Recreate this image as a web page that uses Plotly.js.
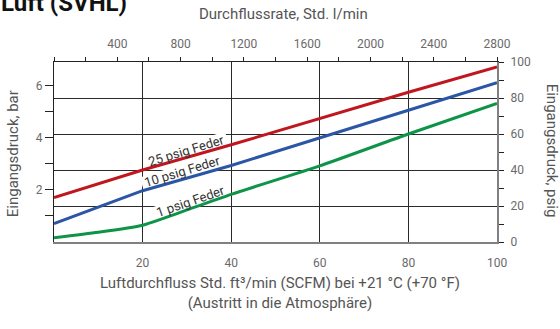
<!DOCTYPE html>
<html>
<head>
<meta charset="utf-8">
<script src="https://cdn.plot.ly/plotly-3.0.1.min.js"></script>
<style>
  html, body { margin: 0; padding: 0; background: #fff; }
  #chart { width: 560px; height: 329px; }
</style>
</head>
<body>
<div id="chart"></div>
<script>
// Air flow (SCFM) vs. inlet pressure (psig) for three spring ranges
const flowScfm = [0, 20, 40, 60, 80, 100];
const flowScfmGreen = [0, 10, 20, 25, 30, 40, 60, 80, 100];

const spring25 = [24.7, 40.0, 54.0, 68.7, 83.2, 97.2];
const spring10 = [10.2, 28.5, 42.5, 58.0, 73.2, 88.5];
const spring1  = [2.4, 5.4, 9.3, 13.4, 17.8, 26.5, 42.3, 60.0, 77.0];

const seriesNames = ['25 psig Feder', '10 psig Feder', '1 psig Feder'];
const seriesColors = ['#c0171f', '#2b56a6', '#0d9447'];

// Secondary scale ticks
const barTicks = [2, 4, 6];
const barMinor = [1, 3, 5];
const litreTicks = [400, 800, 1200, 1600, 2000, 2400, 2800];
const PSI_PER_BAR = 14.5038;

const font = 'Roboto, "Open Sans", sans-serif';
const tickFont = { family: font, size: 12, color: '#6a6a6a' };
const titleFont = { family: font, size: 15, color: '#555' };

const M = { l: 54, r: 63, t: 62, b: 87 };
const plotW = 560 - M.l - M.r, plotH = 329 - M.t - M.b;

const traces = [
  { x: flowScfm, y: spring25, name: seriesNames[0], color: seriesColors[0], shape: 'linear' },
  { x: flowScfm, y: spring10, name: seriesNames[1], color: seriesColors[1], shape: 'linear' },
  { x: flowScfmGreen, y: spring1, name: seriesNames[2], color: seriesColors[2], shape: 'spline' }
].map(s => ({
  type: 'scatter', mode: 'lines', x: s.x, y: s.y, name: s.name,
  xaxis: 'x', yaxis: 'y2',
  line: { color: s.color, width: 3, shape: s.shape, smoothing: 0.6 },
  hoverinfo: 'skip'
}));

// empty traces so the bar and l/min scales get their own subplots
traces.unshift({ type: 'scatter', x: [], y: [], xaxis: 'x', yaxis: 'y', hoverinfo: 'skip' });
traces.push({ type: 'scatter', x: [], y: [], xaxis: 'x2', yaxis: 'y', hoverinfo: 'skip' });

// Curve labels, placed alongside their lines (psig units)
const labelPos = [
  { x: 30.0, y: 50.8, angle: -17, w: 84 },
  { x: 28.9, y: 39.0, angle: -17, w: 84 },
  { x: 30.7, y: 22.4, angle: -19, w: 76 }
];
const curveLabels = seriesNames.map((t, i) => ({
  text: t, xref: 'x', yref: 'y2', x: labelPos[i].x, y: labelPos[i].y,
  showarrow: false, textangle: labelPos[i].angle,
  font: { family: font, size: 13, color: '#333' }
}));

// white rotated boxes behind the labels: above the grid, below the curves
const labelBoxes = labelPos.map(p => {
  const th = p.angle * Math.PI / 180, h = 14;
  const sx = plotW / 100, sy = plotH / 100;
  const pts = [[-p.w / 2, -h / 2], [p.w / 2, -h / 2], [p.w / 2, h / 2], [-p.w / 2, h / 2]].map(([u, v]) => {
    const px = u * Math.cos(th) - v * Math.sin(th);
    const py = u * Math.sin(th) + v * Math.cos(th);
    return [p.x + px / sx, (p.y - py / sy) / PSI_PER_BAR];
  });
  return {
    type: 'path', xref: 'x', yref: 'y', layer: 'between',
    path: 'M' + pts.map(q => q[0].toFixed(3) + ',' + q[1].toFixed(4)).join('L') + 'Z',
    fillcolor: '#fff', line: { width: 0 }
  };
});

const layout = {
  width: 560, height: 329,
  margin: M,
  paper_bgcolor: '#fff', plot_bgcolor: '#fff',
  showlegend: false,
  font: { family: font },
  xaxis: {
    range: [0, 100], tickvals: [20, 40, 60, 80, 100],
    showgrid: true, gridcolor: '#2a2a2a', gridwidth: 1,
    showline: true, linecolor: '#808080', linewidth: 2,
    ticks: '', ticklabelstandoff: 9, zeroline: false, tickfont: tickFont, fixedrange: true
  },
  xaxis2: {
    overlaying: 'x', side: 'top', anchor: 'y',
    range: [0, 2800], tickvals: litreTicks,
    ticks: 'outside', ticklen: 4, tickcolor: '#222',
    minor: { dtick: 200, ticks: 'outside', ticklen: 4, tickcolor: '#222', showgrid: false },
    showgrid: false, showline: true, linecolor: '#222', linewidth: 1,
    ticklabelstandoff: 4,
    zeroline: false, tickfont: tickFont, fixedrange: true
  },
  yaxis: {
    range: [0, 100 / PSI_PER_BAR], tickvals: barTicks,
    ticks: 'outside', ticklen: 8, tickcolor: '#222',
    minor: { tickvals: barMinor, ticks: 'outside', ticklen: 8, tickcolor: '#222', showgrid: false },
    showgrid: false, showline: true, linecolor: '#222', linewidth: 1,
    zeroline: false, tickfont: tickFont, fixedrange: true
  },
  yaxis2: {
    overlaying: 'y', side: 'right', anchor: 'x',
    range: [0, 100], dtick: 20, tick0: 0,
    ticks: 'outside', ticklen: 5, tickcolor: '#222',
    minor: { dtick: 10, ticks: 'outside', ticklen: 5, tickcolor: '#222', showgrid: false },
    showgrid: true, gridcolor: '#2a2a2a', gridwidth: 1,
    showline: true, linecolor: '#808080', linewidth: 2,
    ticklabelstandoff: 4,
    zeroline: false, tickfont: tickFont, fixedrange: true
  },
  shapes: labelBoxes,
  annotations: [
    {
      text: '<b>Luft (SVHL)</b>', xref: 'paper', yref: 'paper',
      x: -0.125, y: 1.238, xanchor: 'left', yanchor: 'bottom', showarrow: false,
      font: { family: font, size: 24, color: '#111' }
    },
    {
      text: 'Durchflussrate, Std. l/min', xref: 'paper', yref: 'paper',
      x: 0.517, y: 1.265, xanchor: 'center', yanchor: 'middle', showarrow: false,
      font: titleFont
    },
    {
      text: 'Luftdurchfluss Std. ft³/min (SCFM) bei +21 °C (+70 °F)<br>(Austritt in die Atmosphäre)',
      xref: 'paper', yref: 'paper',
      x: 0.51, y: -0.285, xanchor: 'center', yanchor: 'middle', showarrow: false,
      font: titleFont
    },
    {
      text: 'Eingangsdruck, bar', xref: 'paper', yref: 'paper',
      x: -0.0926, y: 0.493, xanchor: 'center', yanchor: 'middle', showarrow: false,
      textangle: -90, font: titleFont
    },
    {
      text: 'Eingangsdruck, psig', xref: 'paper', yref: 'paper',
      x: 1.1235, y: 0.509, xanchor: 'center', yanchor: 'middle', showarrow: false,
      textangle: 90, font: titleFont
    }
  ].concat(curveLabels)
};

Plotly.newPlot('chart', traces, layout, { staticPlot: true, displayModeBar: false });
</script>
</body>
</html>
